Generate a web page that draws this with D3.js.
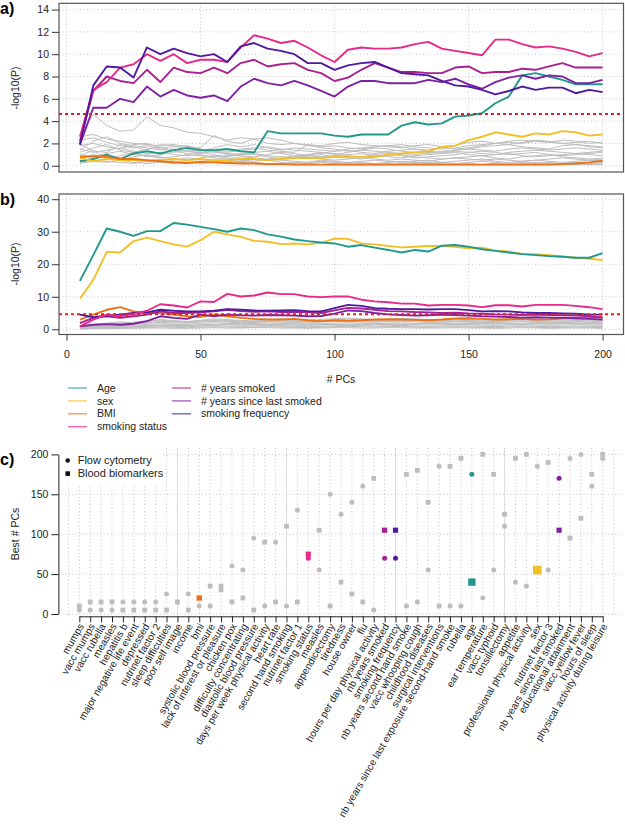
<!DOCTYPE html>
<html><head><meta charset="utf-8">
<script src="https://cdn.jsdelivr.net/npm/d3@7"></script>
<style>
body{margin:0;background:#fff}
svg{display:block;font-family:"Liberation Sans",Arial,sans-serif}
</style>
</head><body>
<svg id="c" width="625" height="827"></svg>
<script>
// ---------- DATA ----------
const pcs = [5,10,15,20,25,30,35,40,45,50,55,60,65,70,75,80,85,90,95,100,105,110,115,120,125,130,135,140,145,150,155,160,165,170,175,180,185,190,195,200];

const seriesNames = ["Age","sex","BMI","smoking status","# years smoked","# years since last smoked","smoking frequency"];

// panel a: -log10(P), flow cytometry
const ageA    = [0.4,0.6,1.0,0.6,1.1,1.3,1.1,1.4,1.6,1.4,1.4,1.5,1.3,1.2,3.1,2.9,2.9,2.9,2.9,2.7,2.6,2.8,2.8,2.8,3.6,3.9,3.7,3.8,4.4,4.5,4.7,5.6,6.2,8.1,8.3,8.0,7.7,7.3,7.3,7.3];
const sexA    = [0.7,0.4,0.6,0.5,0.5,0.4,0.5,0.6,0.5,0.6,0.5,0.5,0.6,0.6,0.5,0.6,0.7,0.7,0.7,0.8,0.8,0.8,0.8,1.0,1.1,1.2,1.3,1.7,1.8,2.3,2.6,3.0,2.8,2.6,2.9,2.8,3.1,3.0,2.7,2.8];
const bmiA    = [0.8,0.85,0.8,0.6,0.6,0.5,0.4,0.3,0.25,0.35,0.3,0.25,0.2,0.2,0.15,0.15,0.1,0.1,0.1,0.1,0.1,0.1,0.1,0.1,0.1,0.1,0.1,0.1,0.1,0.1,0.1,0.1,0.1,0.1,0.1,0.1,0.15,0.2,0.3,0.45];
const statusA = [2.6,6.8,7.5,8.8,9.1,10.0,9.4,10.0,9.2,9.5,9.5,9.3,10.6,11.7,11.4,11.0,11.2,10.6,9.9,9.3,10.4,10.6,10.5,10.5,10.6,10.9,11.1,10.5,10.3,10.1,9.9,11.3,11.3,10.9,10.6,10.7,10.5,10.2,9.8,10.1];
const yrsA    = [2.2,6.7,8.0,7.6,7.4,8.6,7.5,8.8,8.4,8.3,8.8,8.3,9.2,9.5,8.9,9.1,9.2,8.6,8.3,7.6,7.9,8.6,9.2,8.8,8.4,8.4,8.3,8.3,8.8,8.9,8.3,8.4,8.4,8.7,8.6,8.9,9.2,8.8,8.8,8.8];
const sinceA  = [1.9,5.2,5.2,6.0,5.7,7.1,6.2,6.8,6.3,6.1,6.3,5.8,7.1,7.8,7.4,7.2,7.6,7.2,6.7,6.2,7.1,7.6,7.6,7.4,7.4,7.4,7.7,7.5,7.8,7.3,6.9,7.5,7.9,8.1,7.8,8.1,8.0,7.4,7.4,7.7];
const freqA   = [1.9,7.2,8.9,8.8,7.9,10.6,10.0,10.5,10.1,9.8,10.0,9.3,10.7,11.0,10.5,10.3,10.0,9.2,9.2,8.6,9.0,9.2,9.3,8.8,8.3,8.2,8.1,7.6,7.2,7.1,6.8,6.4,6.7,7.1,6.8,7.0,7.0,6.5,6.8,6.6];

const greyA1  = [2.8,4.6,3.6,3.1,3.2,4.4,3.6,3.4,3.0,2.9,2.6,2.3,2.5,2.4,2.0,1.9,2.0,1.8,1.7,1.8,1.6,1.5,1.7,1.8,1.9,1.7,1.6,1.5,1.6,1.8,1.9,2.0,2.1,2.0,2.2,2.1,2.0,1.9,1.8,1.7];
const greyA2  = [2.6,2.8,2.4,2.2,2.0,1.9,1.8,1.9,1.7,1.6,2.7,2.2,2.0,2.4,2.5,2.3,2.0,1.9,1.8,2.0,2.1,1.9,1.8,1.7,1.6,1.8,1.9,1.7,1.5,1.6,1.8,2.0,2.2,2.3,2.2,2.1,2.3,2.2,2.0,2.1];
const greyA3  = [2.3,2.5,2.1,1.8,1.6,1.8,1.5,1.4,1.3,1.2,1.4,1.3,1.5,1.6,1.4,1.3,1.2,1.9,1.6,1.5,1.3,1.4,1.6,1.5,1.3,1.2,1.1,1.3,1.4,1.5,1.7,1.8,1.9,1.7,1.6,1.5,1.8,1.9,1.7,1.6];
const greyA4  = [1.8,2.0,1.7,1.5,1.9,2.0,1.6,1.7,1.8,1.5,1.3,1.2,1.4,1.5,1.7,1.5,1.4,1.3,1.2,1.0,1.2,1.4,1.3,1.2,1.1,1.0,1.2,1.1,1.3,1.2,1.1,1.0,1.2,1.3,1.4,1.3,1.2,1.1,1.2,1.3];
const greyA5  = [1.5,1.2,1.4,1.6,1.3,1.1,1.2,1.0,0.9,1.1,1.3,1.0,0.9,0.8,1.0,1.2,1.1,0.9,0.8,0.9,1.0,1.1,0.9,0.8,0.7,0.9,1.0,1.1,1.2,1.0,0.9,1.0,1.1,0.9,0.8,0.9,1.0,1.1,1.0,0.9];
const greyA6  = [1.2,1.6,1.9,1.4,1.2,1.5,1.7,1.3,1.1,1.2,1.0,0.8,1.0,1.1,0.9,0.8,0.7,0.9,1.0,0.8,0.7,0.6,0.8,0.9,1.0,0.8,0.7,0.6,0.7,0.8,0.9,0.7,0.6,0.8,0.9,1.0,0.8,0.7,0.6,0.7];
const greyA7  = [1.0,0.8,1.1,1.3,1.0,0.9,0.7,0.8,1.0,0.9,0.7,0.6,0.8,0.7,0.6,0.7,0.9,0.8,0.6,0.5,0.6,0.7,0.6,0.5,0.6,0.5,0.4,0.6,0.7,0.6,0.5,0.6,0.5,0.4,0.5,0.6,0.7,0.6,0.5,0.6];
const greyA8  = [0.6,1.0,0.7,0.5,0.8,1.0,0.8,0.6,0.5,0.7,0.9,0.7,0.5,0.4,0.6,0.5,0.4,0.3,0.5,0.4,0.3,0.4,0.5,0.4,0.3,0.4,0.5,0.3,0.4,0.5,0.6,0.4,0.3,0.4,0.5,0.4,0.3,0.4,0.5,0.4];
const greyA9  = [0.4,0.6,0.9,0.7,0.5,0.4,0.6,0.5,0.7,0.6,0.4,0.3,0.4,0.6,0.5,0.3,0.2,0.3,0.4,0.3,0.2,0.3,0.2,0.3,0.4,0.3,0.2,0.3,0.2,0.3,0.4,0.3,0.2,0.3,0.2,0.3,0.2,0.3,0.2,0.3];
const greyA10 = [0.2,0.4,0.3,0.5,0.3,0.2,0.3,0.4,0.3,0.2,0.3,0.5,0.4,0.3,0.2,0.2,0.3,0.2,0.1,0.2,0.3,0.2,0.1,0.2,0.1,0.2,0.3,0.2,0.1,0.2,0.1,0.2,0.1,0.2,0.3,0.2,0.1,0.2,0.1,0.2];
const greyA11 = [2.0,1.3,1.2,1.9,1.7,1.4,1.9,1.8,1.5,1.3,1.6,1.9,1.7,1.9,1.6,1.4,1.6,1.5,1.4,1.3,1.5,1.6,1.7,1.8,1.7,1.5,1.4,1.6,1.8,2.1,2.2,2.0,1.9,2.1,2.3,2.2,2.0,2.1,2.2,2.0];
const greyA12 = [0.9,1.4,0.6,0.9,1.2,0.8,1.0,1.2,1.4,1.0,0.8,0.9,1.1,1.0,0.8,0.6,0.8,1.0,1.2,1.1,0.9,0.8,1.0,1.1,0.9,0.7,0.8,0.9,1.0,1.2,1.3,1.2,1.0,1.1,1.2,1.0,0.9,1.0,1.1,1.2];
const greyA13 = [1.4,2.2,2.6,2.0,1.8,1.6,1.4,1.5,1.3,1.4,1.2,1.1,1.0,1.2,1.3,1.1,0.9,1.0,1.1,1.3,1.4,1.2,1.1,1.3,1.4,1.5,1.3,1.2,1.4,1.5,1.4,1.3,1.5,1.6,1.5,1.4,1.5,1.6,1.5,1.4];
const greyA14 = [0.3,0.5,0.4,0.3,0.2,0.4,0.3,0.2,0.3,0.4,0.5,0.4,0.3,0.2,0.1,0.2,0.1,0.2,0.3,0.2,0.1,0.1,0.2,0.1,0.2,0.3,0.2,0.1,0.2,0.1,0.1,0.2,0.1,0.1,0.2,0.1,0.2,0.1,0.1,0.1];

// panel b: -log10(P), blood biomarkers
const ageB    = [14.9,22.8,31.0,30.0,28.7,30.2,30.2,32.7,32.2,31.5,30.8,30.0,31.0,30.5,29.2,28.5,27.6,27.1,26.7,26.4,25.4,25.9,25.1,24.4,23.6,24.4,23.9,25.7,25.9,25.4,24.6,24.1,23.6,23.1,22.8,22.5,22.3,22.0,22.0,23.4];
const sexB    = [9.4,15.2,23.8,23.6,27.1,28.2,27.1,26.1,25.4,27.4,30.0,29.2,28.4,27.2,26.9,26.2,26.4,26.1,26.6,27.9,27.8,26.4,26.1,25.6,25.2,25.4,25.6,25.6,25.4,24.9,25.1,24.2,23.9,23.2,23.1,22.8,22.4,22.0,21.7,21.3];
const bmiB    = [3.0,4.5,6.0,6.8,5.5,5.0,5.0,4.5,4.0,3.8,4.5,4.0,3.5,3.2,3.0,3.0,3.2,2.8,2.5,2.8,2.6,2.8,3.0,3.1,3.0,2.9,2.8,3.0,3.3,3.4,3.2,3.0,3.1,3.2,3.0,3.1,3.3,3.5,3.6,3.8];
const statusB = [0.9,3.0,4.5,4.0,4.7,5.7,7.7,7.3,6.7,8.6,8.4,10.9,10.1,10.4,11.3,10.8,10.8,10.1,9.9,10.1,10.1,9.1,8.6,8.3,7.9,7.9,7.3,7.5,7.5,7.3,6.8,7.4,7.4,7.0,7.5,7.5,7.5,7.2,6.8,6.2];
const yrsB    = [1.9,3.5,4.0,3.5,4.0,4.5,5.5,5.0,5.0,5.2,5.5,6.0,5.6,5.4,5.5,5.3,5.4,5.2,5.0,5.8,6.6,6.4,6.0,5.6,5.5,5.3,5.2,5.0,5.1,4.9,4.8,4.6,4.5,4.4,4.5,4.4,4.3,4.2,4.0,3.6];
const sinceB  = [0.9,1.4,1.6,1.4,1.7,2.5,4.0,3.5,3.2,4.5,4.0,4.5,4.3,4.2,4.4,4.3,4.2,4.0,4.1,4.8,5.8,5.6,5.0,4.6,4.4,4.2,4.3,4.5,4.4,4.2,4.0,3.9,3.8,3.6,3.7,3.6,3.5,3.4,3.2,3.0];
const freqB   = [4.5,3.7,4.2,4.5,5.0,5.2,6.0,5.7,5.5,5.5,5.7,6.2,6.0,5.8,5.7,5.8,5.9,5.6,5.5,6.5,7.5,7.2,6.5,6.3,6.2,6.2,6.1,6.2,6.2,5.9,5.5,5.6,5.5,5.2,5.0,5.0,4.9,4.8,4.5,4.5];

const greyB1  = [0.8,1.2,1.5,1.9,2.2,2.6,2.8,2.5,2.3,2.6,2.9,2.7,2.5,2.4,2.6,2.8,2.7,2.5,2.6,2.9,3.1,2.9,2.7,2.8,3.0,2.9,2.7,2.6,2.8,2.7,2.5,2.6,2.8,2.9,2.7,2.6,2.5,2.7,2.8,2.6];
const greyB2  = [0.6,0.9,1.1,1.4,1.6,1.9,2.1,2.0,1.9,2.2,2.4,2.2,2.0,2.1,2.3,2.2,2.1,2.0,2.2,2.4,2.5,2.3,2.2,2.4,2.5,2.3,2.1,2.2,2.3,2.2,2.0,2.1,2.2,2.3,2.1,2.0,2.1,2.2,2.1,2.0];
const greyB3  = [0.5,0.7,0.9,1.1,1.3,1.5,1.7,1.6,1.5,1.8,2.0,1.8,1.7,1.8,1.9,1.8,1.7,1.6,1.7,1.9,2.0,1.9,1.8,1.9,2.0,1.8,1.7,1.8,1.9,1.8,1.7,1.6,1.8,1.9,1.7,1.6,1.7,1.8,1.7,1.6];
const greyB4  = [0.4,0.6,0.7,0.9,1.0,1.2,1.3,1.2,1.1,1.4,1.5,1.4,1.3,1.4,1.5,1.4,1.3,1.2,1.3,1.5,1.6,1.5,1.4,1.5,1.6,1.4,1.3,1.4,1.5,1.4,1.3,1.2,1.4,1.5,1.3,1.2,1.3,1.4,1.3,1.2];
const greyB5  = [0.3,0.4,0.5,0.6,0.7,0.9,1.0,0.9,0.8,1.0,1.1,1.0,0.9,1.0,1.1,1.0,0.9,0.8,0.9,1.1,1.2,1.1,1.0,1.1,1.2,1.0,0.9,1.0,1.1,1.0,0.9,0.8,1.0,1.1,0.9,0.8,0.9,1.0,0.9,0.8];
const greyB6  = [0.2,0.3,0.3,0.4,0.5,0.6,0.7,0.6,0.5,0.7,0.8,0.7,0.6,0.7,0.8,0.7,0.6,0.5,0.6,0.8,0.9,0.8,0.7,0.8,0.9,0.7,0.6,0.7,0.8,0.7,0.6,0.5,0.7,0.8,0.6,0.5,0.6,0.7,0.6,0.5];
const greyB7  = [1.0,1.5,1.9,2.3,2.0,2.4,3.0,2.7,2.4,2.8,3.2,3.0,2.7,2.6,2.9,3.1,3.0,2.8,3.0,3.3,3.4,3.2,3.0,3.1,3.3,3.2,3.0,2.9,3.1,3.0,2.8,2.9,3.1,3.2,3.0,2.9,2.8,3.0,3.1,2.9];
const greyB8  = [0.2,0.4,0.6,0.8,0.9,1.0,1.2,1.4,1.3,1.2,1.3,1.6,1.5,1.4,1.3,1.2,1.5,1.6,1.5,1.4,1.3,1.6,1.8,1.7,1.5,1.6,1.8,1.7,1.6,1.5,1.7,1.8,1.6,1.5,1.7,1.8,1.9,1.7,1.6,1.8];
const greyB9  = [0.1,0.2,0.2,0.3,0.3,0.4,0.4,0.3,0.3,0.4,0.5,0.4,0.4,0.5,0.5,0.4,0.4,0.3,0.4,0.5,0.5,0.4,0.4,0.5,0.5,0.4,0.4,0.4,0.5,0.4,0.4,0.3,0.4,0.5,0.4,0.3,0.4,0.4,0.4,0.3];
const greyB10 = [0.7,1.0,1.3,1.6,1.8,2.1,2.4,2.3,2.1,2.4,2.7,2.5,2.3,2.2,2.4,2.5,2.4,2.3,2.4,2.6,2.7,2.6,2.4,2.5,2.7,2.6,2.4,2.3,2.5,2.4,2.3,2.4,2.5,2.6,2.4,2.3,2.2,2.4,2.5,2.3];

const threshold = 4.64;
const yTicksA = [0,2,4,6,8,10,12,14];
const yTicksB = [0,10,20,30,40];
const xTicks  = [0,50,100,150,200];

// panel c: best # PCs per trait
const traits = ["mumps","vacc mumps","vacc rubella","measles","hepatitis b","major negative life event","depressed","nutrinet factor 2","sleep difficulties","poor self image","income","bmi","systolic blood pressure","lack of interest or pleasure","chicken pox","difficulty concentrating","diastolic blood pressure","days per week physical activity","heart rate","second hand smoking","nutrinet factor 1","smoking status","measles","appendicectomy","tiredness","house owner","flu","hours per day physical activity","nb years smoked","smoking frequency","nb years second hand smoke","vacc whooping cough","childhood diseases","surgical interventions","nb years since last exposure second-hand smoke","rubella","age","ear temperature","vacc typhoid","tonsillectomy","appetite","professional physical activity","sex","nutrinet factor 3","nb years since last smoked","educational attainment","vacc yellow fever","hours of sleep","physical activity during leisure"];
const flowBest  = [5,5,5,5,15,15,15,15,25,15,25,10,10,30,60,55,95,10,90,10,130,70,55,150,125,140,160,5,70,70,10,15,55,185,10,10,175,20,55,110,40,35,185,55,170,195,200,160,195];
const bloodBest = [10,15,15,15,5,5,5,5,5,15,5,20,35,35,15,20,5,90,15,110,15,75,105,10,40,25,15,170,105,105,175,180,140,10,185,195,40,200,175,125,195,200,55,190,105,95,120,175,200];
const yTicksC = [0,50,100,150,200];
const legendC = ["Flow cytometry","Blood biomarkers"];

// ---------- STYLE ----------
const colors = {"Age":"#21998a","sex":"#f2bf27","BMI":"#ec7014","smoking status":"#e7298a",
  "# years smoked":"#a8218f","# years since last smoked":"#7f20a3","smoking frequency":"#4f1a9c"};
const greyCol = "#bdbdbd";
// highlighted traits in panel c: colour of circle / square, square size
const hl = {
  "bmi":{circle:null, square:colors["BMI"], sq:5.4},
  "smoking status":{circle:colors["smoking status"], square:colors["smoking status"], sq:5.2},
  "nb years smoked":{circle:colors["# years smoked"], square:colors["# years smoked"], sq:5.2},
  "smoking frequency":{circle:colors["smoking frequency"], square:colors["smoking frequency"], sq:5.2},
  "age":{circle:colors["Age"], square:colors["Age"], sq:7.4},
  "sex":{circle:null, square:colors["sex"], sq:8.6},
  "nb years since last smoked":{circle:colors["# years since last smoked"], square:colors["# years since last smoked"], sq:5.2}
};

const svg = d3.select("#c");
const FS = 10.5;
const x = d3.scaleLinear().domain([-2.8,207.8]).range([59,623.5]);

function drawPanel(y, top, bottom, yTicks, greys, cols, label, labelY, letter, letterY){
  const g = svg.append("g");
  const L = x.range()[0], R = x.range()[1];
  // grid
  g.selectAll(".gv").data(xTicks).join("line")
    .attr("x1",d=>x(d)).attr("x2",d=>x(d)).attr("y1",top).attr("y2",bottom)
    .attr("stroke","#c8c8c8").attr("stroke-dasharray","1,2.5");
  g.selectAll(".gh").data(yTicks).join("line")
    .attr("x1",L).attr("x2",R).attr("y1",d=>y(d)).attr("y2",d=>y(d))
    .attr("stroke","#c8c8c8").attr("stroke-dasharray","1,2.5");
  const line = d3.line().x((d,i)=>x(pcs[i])).y(d=>y(d));
  g.selectAll(".grey").data(greys).join("path")
    .attr("d",line).attr("fill","none").attr("stroke",greyCol).attr("stroke-width",1);
  g.selectAll(".col").data(cols).join("path")
    .attr("d",d=>line(d.v)).attr("fill","none").attr("stroke",d=>colors[d.n]).attr("stroke-width",1.9)
    .attr("stroke-linejoin","round");
  g.append("line").attr("x1",L).attr("x2",R).attr("y1",y(threshold)).attr("y2",y(threshold))
    .attr("stroke","#e0201c").attr("stroke-width",2).attr("stroke-dasharray","3,3");
  // box
  g.append("rect").attr("x",L).attr("y",top).attr("width",R-L).attr("height",bottom-top)
    .attr("fill","none").attr("stroke","#555").attr("stroke-width",1.2);
  // y axis
  const ax = g.append("g").attr("transform",`translate(${L},0)`)
    .call(d3.axisLeft(y).tickValues(yTicks).tickSize(7).tickPadding(3));
  ax.select(".domain").remove();
  ax.selectAll("line").attr("stroke","#333");
  ax.selectAll("text").attr("font-size",FS).attr("fill","#222").attr("font-family","Liberation Sans, Arial, sans-serif");
  g.append("text").attr("transform",`translate(19,${labelY}) rotate(-90)`).attr("text-anchor","middle")
    .attr("font-size",FS).attr("fill","#222").text(label);
  svg.append("text").attr("x",0).attr("y",letterY).attr("font-size",16).attr("font-weight","bold").text(letter);
  return g;
}

const yA = d3.scaleLinear().domain([-0.56,14.56]).range([172,3.3]);
drawPanel(yA, 3.3, 172, yTicksA,
  [greyA1,greyA2,greyA3,greyA4,greyA5,greyA6,greyA7,greyA8,greyA9,greyA10,greyA11,greyA12,greyA13,greyA14],
  [{n:"Age",v:ageA},{n:"sex",v:sexA},{n:"BMI",v:bmiA},{n:"# years since last smoked",v:sinceA},{n:"# years smoked",v:yrsA},{n:"smoking status",v:statusA},{n:"smoking frequency",v:freqA}],
  "-log10(P)", 88, "a)", 14);

const yB = d3.scaleLinear().domain([-1.6,41.6]).range([334.5,194]);
const gB = drawPanel(yB, 194, 334.5, yTicksB,
  [greyB1,greyB2,greyB3,greyB4,greyB5,greyB6,greyB7,greyB8,greyB9,greyB10],
  [{n:"BMI",v:bmiB},{n:"# years since last smoked",v:sinceB},{n:"# years smoked",v:yrsB},{n:"smoking frequency",v:freqB},{n:"smoking status",v:statusB},{n:"sex",v:sexB},{n:"Age",v:ageB}],
  "-log10(P)", 264, "b)", 205);
const axB = gB.append("g").attr("transform","translate(0,334.5)")
  .call(d3.axisBottom(x).tickValues(xTicks).tickSize(6).tickPadding(10));
axB.select(".domain").remove();
axB.selectAll("line").attr("stroke","#333");
axB.selectAll("text").attr("font-size",FS).attr("fill","#222").attr("font-family","Liberation Sans, Arial, sans-serif");
svg.append("text").attr("x",341).attr("y",383).attr("text-anchor","middle").attr("font-size",FS).attr("fill","#222").text("# PCs");

// line legend
const legRows = 4, legX = [68,172], legY0 = 388, legDY = 12.9;
seriesNames.forEach((n,i)=>{
  const c = Math.floor(i/legRows), r = i%legRows;
  const yy = legY0 + r*legDY;
  svg.append("line").attr("x1",legX[c]).attr("x2",legX[c]+19).attr("y1",yy).attr("y2",yy)
    .attr("stroke",colors[n]).attr("stroke-width",1.3).attr("opacity",0.75);
  svg.append("text").attr("x",legX[c]+29).attr("y",yy).attr("dy","0.35em").attr("font-size",FS).attr("fill","#222").text(n);
});

// ---------- panel c ----------
const cTop = 448, cBot = 616.3, cL = 58.4, cR = 623.6;
const xc = d3.scaleLinear().domain([1,49]).range([79.3,602.7]);
const yc = d3.scaleLinear().domain([0,200]).range([614,454.4]);
const gc = svg.append("g");
const idx = traits.map((t,i)=>i+1);
gc.selectAll(".vg").data(idx).join("line")
  .attr("x1",d=>xc(d)).attr("x2",d=>xc(d)).attr("y1",cTop).attr("y2",cBot)
  .attr("stroke","#c4c4c4").attr("stroke-dasharray","1,2.5");
gc.selectAll(".vg2").data([0,10,20,30,40,50]).join("line")
  .attr("x1",d=>xc(d)).attr("x2",d=>xc(d)).attr("y1",cTop).attr("y2",cBot)
  .attr("stroke","#c4c4c4").attr("stroke-dasharray","1,2.5").attr("stroke-dashoffset",1.75);
gc.selectAll(".hg").data(yTicksC).join("line")
  .attr("x1",cL).attr("x2",cR).attr("y1",d=>yc(d)).attr("y2",d=>yc(d))
  .attr("stroke","#c4c4c4").attr("stroke-dasharray","1,2.5");
// legend background
gc.append("rect").attr("x",59.5).attr("y",cTop-2).attr("width",102).attr("height",39).attr("fill","#fff");
// squares (blood biomarkers)
gc.selectAll(".sq").data(traits).join("rect")
  .each(function(t,i){
    const h = hl[t]; const s = h ? h.sq : 4.8;
    d3.select(this).attr("x",xc(i+1)-s/2).attr("y",yc(bloodBest[i])-s/2).attr("width",s).attr("height",s)
      .attr("fill",h && h.square ? h.square : greyCol);
  });
// circles (flow cytometry)
gc.selectAll(".ci").data(traits).join("circle")
  .attr("cx",(t,i)=>xc(i+1)).attr("cy",(t,i)=>yc(flowBest[i])).attr("r",2.5)
  .attr("fill",t=>hl[t] && hl[t].circle ? hl[t].circle : greyCol);
// y axis
const axC = gc.append("g").attr("transform",`translate(${cL},0)`)
  .call(d3.axisLeft(yc).tickValues(yTicksC).tickSize(7).tickPadding(3).tickSizeOuter(0));
axC.select(".domain").attr("stroke","#222");
axC.selectAll("line").attr("stroke","#222");
axC.selectAll("text").attr("font-size",FS).attr("fill","#222").attr("font-family","Liberation Sans, Arial, sans-serif");
// x axis
const axCx = gc.append("g").attr("transform",`translate(0,${cBot})`)
  .call(d3.axisBottom(xc).tickValues(idx).tickSize(6).tickFormat("").tickSizeOuter(0));
axCx.select(".domain").attr("stroke","#222");
axCx.selectAll("line").attr("stroke","#222");
gc.selectAll(".lab").data(traits).join("text")
  .attr("transform",(t,i)=>`translate(${xc(i+1)+2},${cBot+8}) rotate(-60)`)
  .attr("text-anchor","end").attr("dy","0.35em").attr("font-size",10.1).attr("fill","#222").text(t=>t);
gc.append("text").attr("transform",`translate(19,534) rotate(-90)`).attr("text-anchor","middle")
  .attr("font-size",FS).attr("fill","#222").text("Best # PCs");
svg.append("text").attr("x",0).attr("y",465).attr("font-size",16).attr("font-weight","bold").text("c)");
// point legend
gc.append("circle").attr("cx",67.7).attr("cy",460.5).attr("r",2.3).attr("fill","#111");
gc.append("rect").attr("x",65.4).attr("y",471.3).attr("width",4.6).attr("height",4.6).attr("fill","#111");
legendC.forEach((t,i)=>gc.append("text").attr("x",77.7).attr("y",460.5+13*i).attr("dy","0.35em")
  .attr("font-size",11).attr("fill","#222").text(t));
</script>
</body></html>
